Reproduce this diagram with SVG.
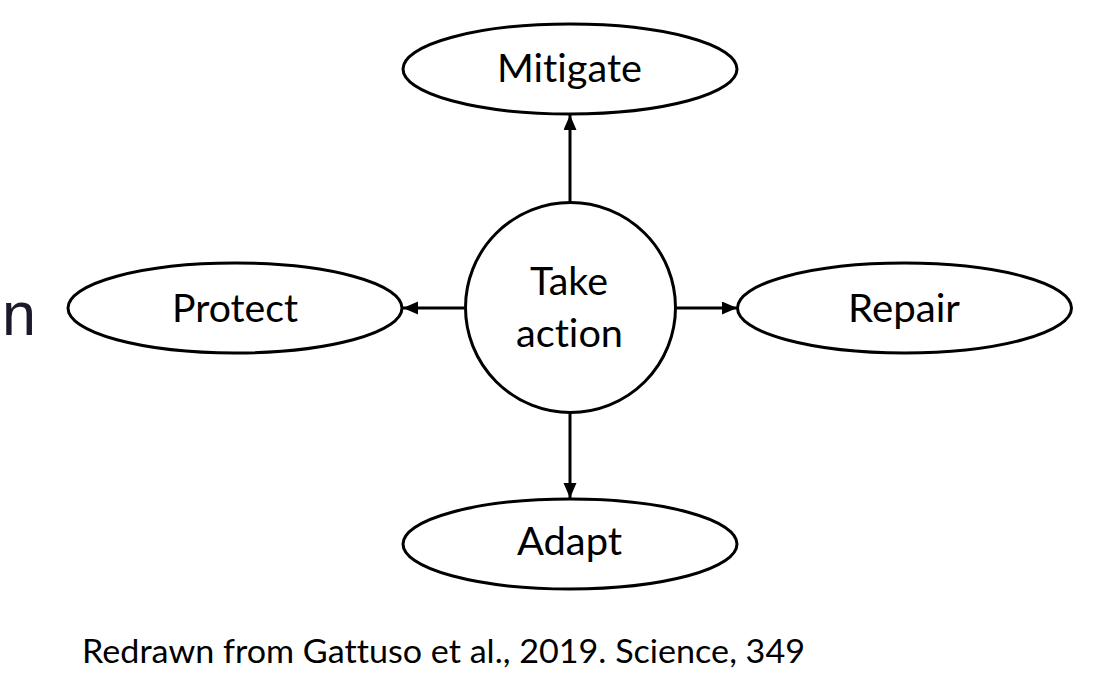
<svg xmlns="http://www.w3.org/2000/svg" width="1100" height="681" viewBox="0 0 1100 681">
<defs>
<style>
text{font-variant-ligatures:none;font-feature-settings:"liga" 0,"clig" 0,"dlig" 0}
.node{fill:#fff;stroke:#000;stroke-width:3}
.lbl{font-family:Lato,"Open Sans","Liberation Sans",sans-serif;font-size:38px;fill:#000;text-anchor:middle}
.edge{stroke:#000;stroke-width:3;fill:none;marker-end:url(#ah)}
</style>
<marker id="ah" markerUnits="userSpaceOnUse" markerWidth="16" markerHeight="14" refX="15" refY="6.5" orient="auto">
<path d="M0,0 L15,6.5 L0,13 z" fill="#000"/>
</marker>
</defs>
<rect width="1100" height="681" fill="#fff"/>
<text x="36" y="335" font-family="'Liberation Sans',Arial,sans-serif" font-size="61" fill="#1a1a2a" text-anchor="end">n</text>
<g id="connectors">
<line class="edge" x1="570" y1="202" x2="570" y2="115"/>
<line class="edge" x1="570" y1="413" x2="570" y2="498"/>
<line class="edge" x1="464" y1="308" x2="403" y2="308"/>
<line class="edge" x1="677" y1="308" x2="737" y2="308"/>
</g>
<g id="take-action">
<circle class="node" cx="570.5" cy="307.5" r="105"/>
<text class="lbl" x="569" y="295" textLength="78" lengthAdjust="spacingAndGlyphs">Take</text>
<text class="lbl" x="569.5" y="347" textLength="107" lengthAdjust="spacingAndGlyphs">action</text>
</g>
<g id="mitigate">
<ellipse class="node" cx="570" cy="69" rx="167" ry="45"/>
<text class="lbl" x="569.5" y="82" textLength="145" lengthAdjust="spacingAndGlyphs">Mitigate</text>
</g>
<g id="adapt">
<ellipse class="node" cx="570" cy="544" rx="167" ry="45"/>
<text class="lbl" x="569.5" y="555" textLength="105" lengthAdjust="spacingAndGlyphs">Adapt</text>
</g>
<g id="protect">
<ellipse class="node" cx="235" cy="308" rx="167" ry="45"/>
<text class="lbl" x="235" y="322" textLength="126" lengthAdjust="spacingAndGlyphs">Protect</text>
</g>
<g id="repair">
<ellipse class="node" cx="904.5" cy="308" rx="167" ry="45"/>
<text class="lbl" x="904" y="322" textLength="112" lengthAdjust="spacingAndGlyphs">Repair</text>
</g>
<text x="82" y="663" font-family="Lato,'Open Sans','Liberation Sans',sans-serif" font-size="32" fill="#000" textLength="723" lengthAdjust="spacingAndGlyphs">Redrawn from Gattuso et al., 2019. Science, 349</text>
</svg>
